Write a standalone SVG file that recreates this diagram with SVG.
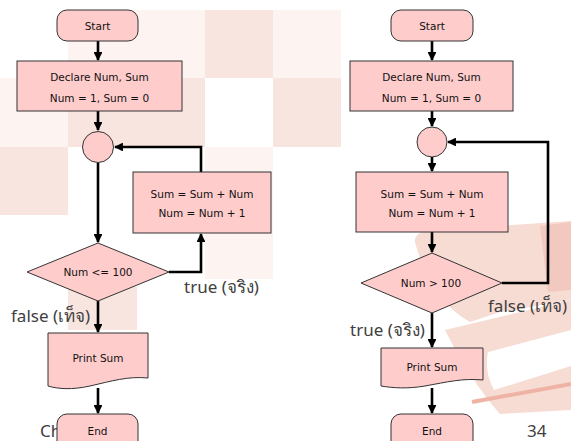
<svg xmlns="http://www.w3.org/2000/svg" width="571" height="441" viewBox="0 0 571 441">
  <style>
    .node { fill: #ffcccc; stroke: #333333; stroke-width: 1; }
    .txt { font-family: "DejaVu Sans", "Liberation Sans", sans-serif; font-size: 10.5px; fill: #111111; text-anchor: middle; }
    .lbl { font-family: "Noto Sans", "DejaVu Sans", sans-serif; font-size: 17px; fill: #404040; }
    .edge { fill: none; stroke: #000000; stroke-width: 2.6; }
    .bgA { fill: #fdf3f0; }
    .bgB { fill: #f8e5df; }
    .book { fill: #f7dcd4; }
  </style>
  <defs>
    <marker id="arrow" viewBox="0 0 10 10" refX="9" refY="5" markerWidth="3.4" markerHeight="3.4" orient="auto" markerUnits="strokeWidth">
      <path d="M0,0 L10,5 L0,10 Z" fill="#000000"/>
    </marker>
  </defs>

  <!-- background: faded checker tiles -->
  <g id="background">
    <rect class="bgA" x="68" y="10" width="137" height="68"/>
    <rect class="bgB" x="205" y="10" width="68" height="68"/>
    <rect class="bgA" x="273" y="10" width="68" height="68"/>
    <rect class="bgA" x="0" y="78" width="68" height="69"/>
    <rect class="bgB" x="68" y="78" width="137" height="69"/>
    <rect class="bgB" x="273" y="78" width="68" height="69"/>
    <rect class="bgB" x="0" y="147" width="68" height="68"/>
    <rect class="bgA" x="205" y="147" width="68" height="132"/>
    <rect class="bgB" x="68" y="287" width="69" height="43"/>
    <!-- book lying at an angle -->
    <path class="book" d="M415,242 Q414,229 440,230 L571,221 L571,300 L500,312 L470,322 Q430,300 415,242 Z"/>
    <path d="M540,226 L571,222 L571,290 L548,292 Z" fill="#f1c9be"/>
    <path class="book" d="M445,330 L571,300 L571,410 L500,414 Q470,380 445,330 Z"/>
    <path d="M488,352 L571,330 L571,366 L494,390 Q484,372 488,352 Z" fill="#ffffff"/>
    <path d="M472,402 L571,384" stroke="#eeb3a5" stroke-width="4" fill="none"/>
  </g>

  <!-- footer text -->
  <text class="lbl" x="40" y="437" font-size="15">Ch</text>
  <text class="lbl" x="527" y="437" font-size="15">34</text>

  <!-- connectors -->
  <g id="connectors">
    <path class="edge" d="M98,41 V60" marker-end="url(#arrow)"/>
    <path class="edge" d="M98,111 V130" marker-end="url(#arrow)"/>
    <path class="edge" d="M98,163 V242" marker-end="url(#arrow)"/>
    <path class="edge" d="M98,301 V332" marker-end="url(#arrow)"/>
    <path class="edge" d="M98,388 V413" marker-end="url(#arrow)"/>
    <path class="edge" d="M169,272 H201 V234" marker-end="url(#arrow)"/>
    <path class="edge" d="M201,172 V147 H115" marker-end="url(#arrow)"/>

    <path class="edge" d="M432,41 V60" marker-end="url(#arrow)"/>
    <path class="edge" d="M432,111 V126" marker-end="url(#arrow)"/>
    <path class="edge" d="M432,157 V171" marker-end="url(#arrow)"/>
    <path class="edge" d="M432,232 V252" marker-end="url(#arrow)"/>
    <path class="edge" d="M432,313 V347" marker-end="url(#arrow)"/>
    <path class="edge" d="M432,388 V413" marker-end="url(#arrow)"/>
    <path class="edge" d="M502,283 H548 V142 H448" marker-end="url(#arrow)"/>
  </g>

  <!-- left flowchart: loop while Num <= 100 -->
  <g id="l-start">
    <rect class="node" x="57" y="10" width="81" height="31" rx="10"/>
    <text class="txt" x="97.5" y="29.5">Start</text>
  </g>
  <g id="l-declare">
    <rect class="node" x="17" y="61" width="165" height="50"/>
    <text class="txt" x="99.5" y="81">Declare Num, Sum</text>
    <text class="txt" x="99.5" y="102">Num = 1, Sum = 0</text>
  </g>
  <g id="l-join">
    <circle class="node" cx="98" cy="147" r="15.5"/>
  </g>
  <g id="l-body">
    <rect class="node" x="133" y="172" width="138" height="61"/>
    <text class="txt" x="202" y="198">Sum = Sum + Num</text>
    <text class="txt" x="202" y="217">Num = Num + 1</text>
  </g>
  <g id="l-cond">
    <polygon class="node" points="98,243 169,272 98,301 27,272"/>
    <text class="txt" x="98" y="276">Num &lt;= 100</text>
  </g>
  <g id="l-print">
    <path class="node" d="M48,333 H148 V378 C128,376 112,381 90,386 C72,390 58,389 48,386 Z"/>
    <text class="txt" x="98" y="362">Print Sum</text>
  </g>
  <g id="l-end">
    <rect class="node" x="57" y="414" width="81" height="40" rx="10"/>
    <text class="txt" x="97.5" y="435">End</text>
  </g>
  <text class="lbl" x="184" y="293">true (จริง)</text>
  <text class="lbl" x="11" y="322">false (เท็จ)</text>

  <!-- right flowchart: loop until Num > 100 -->
  <g id="r-start">
    <rect class="node" x="391" y="10" width="82" height="31" rx="10"/>
    <text class="txt" x="432" y="29.5">Start</text>
  </g>
  <g id="r-declare">
    <rect class="node" x="350" y="61" width="163" height="50"/>
    <text class="txt" x="431.5" y="81">Declare Num, Sum</text>
    <text class="txt" x="431.5" y="102">Num = 1, Sum = 0</text>
  </g>
  <g id="r-join">
    <circle class="node" cx="432" cy="142" r="15"/>
  </g>
  <g id="r-body">
    <rect class="node" x="356" y="172" width="152" height="60"/>
    <text class="txt" x="432" y="198">Sum = Sum + Num</text>
    <text class="txt" x="432" y="217">Num = Num + 1</text>
  </g>
  <g id="r-cond">
    <polygon class="node" points="432,253 502,283 432,313 361,283"/>
    <text class="txt" x="431" y="287">Num &gt; 100</text>
  </g>
  <g id="r-print">
    <path class="node" d="M381,348 H483 V380 C463,378 447,382 425,386 C407,389 393,388 381,386 Z"/>
    <text class="txt" x="432" y="371">Print Sum</text>
  </g>
  <g id="r-end">
    <rect class="node" x="391" y="414" width="82" height="40" rx="10"/>
    <text class="txt" x="432" y="435">End</text>
  </g>
  <text class="lbl" x="488" y="312">false (เท็จ)</text>
  <text class="lbl" x="350" y="336">true (จริง)</text>
</svg>
